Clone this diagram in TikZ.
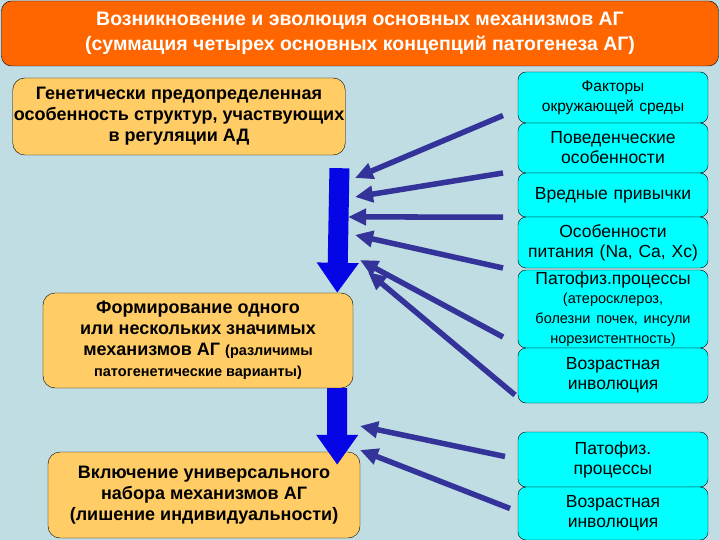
\documentclass[tikz,border=0pt]{standalone}
\usepackage{fontspec}
\setmainfont{Liberation Sans}
\usetikzlibrary{arrows.meta, positioning, calc}
\definecolor{bgpanel}{HTML}{BFDDE3}
\definecolor{titleorange}{HTML}{FF6600}
\definecolor{mechfill}{HTML}{FFCC66}
\definecolor{factorfill}{HTML}{00FFFF}
\definecolor{flowblue}{HTML}{0505E6}
\definecolor{influence}{HTML}{333399}
\newcommand{\smallpart}[1]{{\fontsize{14.5bp}{17bp}\selectfont #1}}

\begin{document}
\begin{tikzpicture}[x=1bp, y=-1bp,
  mechbox/.style={draw=black, fill=mechfill, rounded corners=12bp, align=center,
                  inner sep=1bp, font=\fontsize{18bp}{21bp}\selectfont\bfseries},
  factorbox/.style={draw=black, fill=factorfill, rounded corners=8bp, align=center,
                    minimum width=181bp, text width=190bp, inner sep=0pt, outer sep=0pt,
                    font=\fontsize{17.5bp}{20bp}\selectfont},
  flowarrow/.style={draw=flowblue, line width=20bp, -{Triangle[width=40bp,length=30bp]}},
  pushline/.style={draw=influence, line width=5.5bp, -{Triangle[width=16bp,length=18bp]}}
]
  \fill[bgpanel] (0,0) rectangle (720,540);
  \useasboundingbox (0,0) rectangle (720,540);

  % title bar
  \node[draw=black, fill=titleorange, rounded corners=10bp, minimum width=717bp,
        minimum height=65bp, text=white, align=center,
        font=\fontsize{19.5bp}{25bp}\selectfont\bfseries] (title) at (360,33.5)
    {Возникновение и эволюция основных механизмов АГ\\
     (суммация четырех основных концепций патогенеза АГ)};

  % left column
  \node[mechbox, minimum width=328bp, minimum height=77bp] (gen) at (179,116.5)
    {Генетически предопределенная\\особенность структур, участвующих\\в регуляции АД};
  \node[mechbox, minimum width=310bp, minimum height=95bp] (form) at (198,340.5)
    {Формирование одного\\или нескольких значимых\\механизмов АГ \smallpart{(различимы}\\\smallpart{патогенетические варианты)}};
  \node[mechbox, minimum width=312bp, minimum height=86bp] (incl) at (204,495)
    {Включение универсального\\набора механизмов АГ\\(лишение индивидуальности)};

  % right column
  \node[factorbox, anchor=north west, minimum height=51bp,
        font=\fontsize{15.5bp}{20bp}\selectfont] (f1) at (518,72)
    {Факторы\\окружающей среды};
  \node[factorbox, below=0pt of f1, minimum height=50bp] (f2) {Поведенческие\\особенности};
  \node[factorbox, below=0pt of f2, minimum height=44bp] (f3) {Вредные привычки};
  \node[factorbox, below=0pt of f3, minimum height=51bp] (f4) {Особенности\\питания (Na, Ca, Xc)};
  \node[factorbox, anchor=north west, minimum height=78bp] (f5) at (518,270)
    {Патофиз.процессы\\[-1bp]\smallpart{(атеросклероз,}\\\smallpart{болезни почек, инсули}\\\smallpart{норезистентность)}};
  \node[factorbox, below=0pt of f5, minimum height=55bp] (f6) {Возрастная\\инволюция};
  \node[factorbox, anchor=north west, minimum height=55bp] (f7) at (518,432)
    {Патофиз.\\процессы};
  \node[factorbox, below=0pt of f7, minimum height=53bp] (f8) {Возрастная\\инволюция};

  % main flow
  \draw[flowarrow] ([xshift=-6bp, yshift=-13bp]gen.south east) -- ([xshift=-16bp]form.north east);
  \draw[flowarrow] ([xshift=-16bp]form.south east) -- ([xshift=-23bp, yshift=-13bp]incl.north east);

  % influences
  \coordinate (h1) at (355,178);
  \coordinate (h2) at (355,197);
  \coordinate (h3) at (348,217);
  \coordinate (h4) at (355,235);
  \coordinate (h5) at (360,260);
  \coordinate (h6) at (368,272);
  \coordinate (h7) at (360,426);
  \coordinate (h8) at (360,450);
  \draw[pushline] ([xshift=-15bp, yshift=-18bp]f1.west) -- (h1);
  \draw[pushline] ([xshift=-15bp]f2.south west) -- (h2);
  \draw[pushline] ([xshift=-15bp]f3.south west) -- (h3);
  \draw[pushline] ([xshift=-15bp]f4.south west) -- (h4);
  \draw[pushline] ([xshift=-15bp, yshift=11bp]f5.south west) -- (h5);
  \draw[pushline] ([xshift=-3bp, yshift=8bp]f6.south west) -- (h6);
  \draw[pushline] ([xshift=-13bp, yshift=3bp]f7.west) -- (h7);
  \draw[pushline] ([xshift=-8bp, yshift=5bp]f8.west) -- (h8);
\end{tikzpicture}
\end{document}
